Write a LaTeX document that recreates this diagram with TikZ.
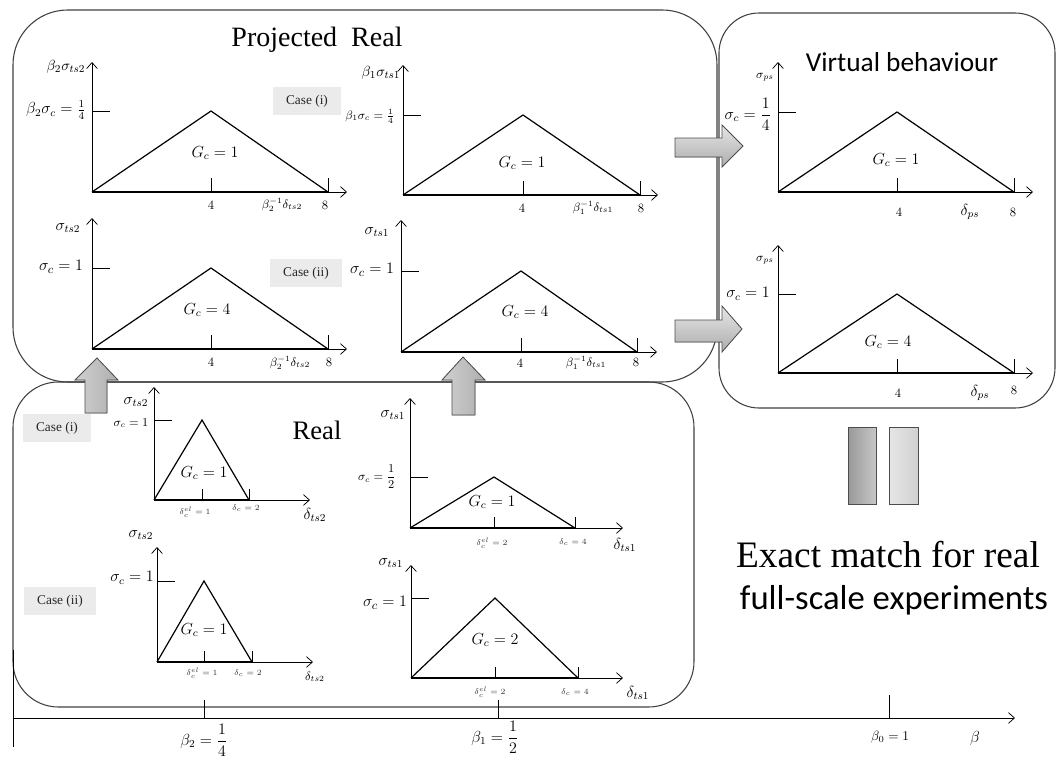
\documentclass[tikz,border=0pt]{standalone}
\usepackage{fontspec}
\newfontfamily\carl{Carlito}
\newfontfamily\tser{Liberation Serif}
\usetikzlibrary{arrows.meta}
\newcommand{\triplot}[8]{%
  \draw[axis] (#1,#2) -- (#1,#3);
  \draw[axis] (#1,#2) -- (#7,#2);
  \draw[basel] (#1,#2) -- (#6,#2);
  \draw[tri] (#1,#2) -- (#4,#5) -- (#6,#2);
  \draw[tick] (#4,#2) -- ++(0,-#8);
  \draw[tick] (#6,#2) -- ++(0,-#8);
  \draw[tick] (#1,#5) -- ++(18,0);
}
\begin{document}
\begin{tikzpicture}[x=0.75pt,y=-0.75pt,
  axis/.style={line width=0.55pt,-{Straight Barb[length=4.5pt,width=8pt]}},
  basel/.style={line width=1.5pt},
  tri/.style={line width=0.9pt},
  tick/.style={line width=0.55pt},
  box/.style={draw=black!75,line width=0.8pt},
  casebox/.style={fill=black!8,text=black!85,font=\tser\fontsize{10}{12}\selectfont,inner xsep=10pt,minimum height=20.5pt},
  blk/.style={draw=black!70,line width=0.6pt},
  lbA/.style={font=\fontsize{11.5}{13}\selectfont,inner sep=1pt},
  lbS/.style={font=\fontsize{9}{10}\selectfont,inner sep=1pt},
  lbT/.style={font=\fontsize{6}{7}\selectfont,inner sep=0.5pt,text=black!80},
  lbN/.style={font=\fontsize{9.5}{11}\selectfont,inner sep=1pt}
]
\useasboundingbox (0,0) rectangle (1057,760);

% ---------- boxes ----------
\draw[box,rounded corners=41pt] (13,10) rectangle (717,382);
\draw[box,rounded corners=30pt] (719,13) rectangle (1055,408);
\draw[box,rounded corners=34pt] (13,382) rectangle (694,707);

% ---------- beta axis ----------
\draw[tick] (13,650) -- (13,747);
\coordinate (bstart) at (13,718);
\coordinate (bend) at (1015,718);
\draw[axis] (bstart) -- (bend);
\draw[tick] (204,718) -- (204,700);
\draw[tick] (498,718) -- (498,700);
\draw[tick] (889,718) -- (889,695);
\node[lbA] (b2) at (204,740) {$\beta_2=\displaystyle\frac{1}{4}$};
\node[lbA] (b1) at (495,737) {$\beta_1=\displaystyle\frac{1}{2}$};
\node[lbS,font=\fontsize{10}{12}\selectfont] (b0) at (890,737) {$\beta_0=1$};
\node[lbA,font=\fontsize{13}{15}\selectfont] (bb) at (975,738) {$\beta$};

% ---------- titles ----------
\node[font=\tser\fontsize{21}{24}\selectfont] (tproj) at (317,40) {Projected\ \ Real};
\node[font=\fontsize{20.5}{24}\selectfont\carl] (tvirt) at (902,62) {Virtual behaviour};
\node[font=\tser\fontsize{20}{24}\selectfont] (treal) at (317,430) {Real};
\node[font=\tser\fontsize{28}{32}\selectfont] (texact) at (888,555) {Exact match for real};
\node[font=\fontsize{26}{30}\selectfont\carl] (tfull) at (894,600) {full-scale experiments};

% ---------- case boxes ----------
\node[casebox] (pc1) at (307,101) {Case (i)};
\node[casebox] (pc2) at (306,273) {Case (ii)};
\node[casebox] (rc1) at (57,428) {Case (i)};
\node[casebox] (rc2) at (60,601) {Case (ii)};

% ---------- projected plots ----------
\triplot{92}{192}{62}{211}{111}{328}{347}{14}
\node[lbA,font=\fontsize{11}{13}\selectfont] (p1y) at (66,67) {$\beta_2\sigma_{ts2}$};
\node[lbA] (p1c) at (56,110) {$\beta_2\sigma_c=\frac{1}{4}$};
\node[lbA] (p1g) at (215,153) {$G_c=1$};
\node[lbN] (p1a) at (211,205) {4};
\node[lbS] (p1b) at (282,205) {$\beta_2^{-1}\delta_{ts2}$};
\node[lbN] (p1e) at (325,205) {8};

\triplot{92}{349}{218}{211}{268}{328}{347}{14}
\node[lbA] (p2y) at (68,228) {$\sigma_{ts2}$};
\node[lbA,font=\fontsize{12.5}{14}\selectfont] (p2c) at (61,267) {$\sigma_c=1$};
\node[lbA] (p2g) at (207,310) {$G_c=4$};
\node[lbN] (p2a) at (211,362) {4};
\node[lbS] (p2b) at (290,363) {$\beta_2^{-1}\delta_{ts2}$};
\node[lbN] (p2e) at (329,362) {8};

\triplot{403}{195}{65}{523}{115}{640}{658}{14}
\node[lbA,font=\fontsize{11}{13}\selectfont] (p3y) at (381,73) {$\beta_1\sigma_{ts1}$};
\node[lbS] (p3c) at (370,116) {$\beta_1\sigma_c=\frac{1}{4}$};
\node[lbA] (p3g) at (522,163) {$G_c=1$};
\node[lbN] (p3a) at (522,208) {4};
\node[lbS] (p3b) at (593,208) {$\beta_1^{-1}\delta_{ts1}$};
\node[lbN] (p3e) at (641,208) {8};

\triplot{401}{352}{220}{521}{271}{637}{657}{14}
\node[lbA] (p4y) at (377,232) {$\sigma_{ts1}$};
\node[lbA,font=\fontsize{12.5}{14}\selectfont] (p4c) at (372,270) {$\sigma_c=1$};
\node[lbA] (p4g) at (525,312) {$G_c=4$};
\node[lbN] (p4a) at (520,363) {4};
\node[lbS] (p4b) at (586,363) {$\beta_1^{-1}\delta_{ts1}$};
\node[lbN] (p4e) at (636,362) {8};

% ---------- virtual plots ----------
\triplot{778}{192}{62}{897}{112}{1014}{1033}{14}
\node[lbS] (v1y) at (765,77) {$\sigma_{ps}$};
\node[lbA] (v1c) at (748,114) {$\sigma_c=\displaystyle\frac{1}{4}$};
\node[lbA] (v1g) at (896,160) {$G_c=1$};
\node[lbN] (v1a) at (899,212) {4};
\node[lbA] (v1b) at (970,212) {$\delta_{ps}$};
\node[lbN] (v1e) at (1013,212) {8};

\triplot{778}{373}{245}{897}{294}{1014}{1033}{14}
\node[lbS] (v2y) at (765,260) {$\sigma_{ps}$};
\node[lbA] (v2c) at (748,294) {$\sigma_c=1$};
\node[lbA] (v2g) at (888,342) {$G_c=4$};
\node[lbN] (v2a) at (898,393) {4};
\node[lbA] (v2b) at (980,393) {$\delta_{ps}$};
\node[lbN] (v2e) at (1014,390) {8};

% ---------- real plots ----------
\triplot{154}{500}{387}{202}{420}{249}{310}{11}
\node[lbA] (r1y) at (136,402) {$\sigma_{ts2}$};
\node[lbS] (r1c) at (131,423) {$\sigma_c=1$};
\node[lbA] (r1g) at (204,473) {$G_c=1$};
\node[lbT] (r1a) at (195,512) {$\delta_c^{el}=1$};
\node[lbT] (r1b) at (246,508) {$\delta_c=2$};
\node[lbA] (r1x) at (315,515) {$\delta_{ts2}$};

\triplot{157}{662}{547}{204}{581}{252}{313}{11}
\node[lbA] (r2y) at (141,535) {$\sigma_{ts2}$};
\node[lbA] (r2c) at (132,578) {$\sigma_c=1$};
\node[lbA] (r2g) at (204,630) {$G_c=1$};
\node[lbT] (r2a) at (202,673) {$\delta_c^{el}=1$};
\node[lbT] (r2b) at (248,673) {$\delta_c=2$};
\node[lbS] (r2x) at (315,677) {$\delta_{ts2}$};

\triplot{410}{528}{398}{494}{477}{575}{623}{11}
\node[lbA] (r3y) at (393,415) {$\sigma_{ts1}$};
\node[lbS] (r3c) at (377,477) {$\sigma_c=\displaystyle\frac{1}{2}$};
\node[lbA] (r3g) at (492,502) {$G_c=1$};
\node[lbT] (r3a) at (492,543) {$\delta_c^{el}=2$};
\node[lbT] (r3b) at (573,542) {$\delta_c=4$};
\node[lbA] (r3x) at (625,545) {$\delta_{ts1}$};

\triplot{411}{678}{565}{495}{598}{578}{623}{11}
\node[lbA] (r4y) at (391,563) {$\sigma_{ts1}$};
\node[lbA,font=\fontsize{13}{15}\selectfont] (r4c) at (385,603) {$\sigma_c=1$};
\node[lbA] (r4g) at (495,640) {$G_c=2$};
\node[lbT] (r4a) at (490,692) {$\delta_c^{el}=2$};
\node[lbT] (r4b) at (575,692) {$\delta_c=4$};
\node[lbA] (r4x) at (638,693) {$\delta_{ts1}$};

% ---------- block arrows ----------
\filldraw[blk,left color=black!18,right color=black!32]
  (85,413) -- (85,380) -- (75,380) -- (97,358) -- (118,380) -- (107,380) -- (107,413) -- cycle;
\filldraw[blk,left color=black!18,right color=black!32]
  (452,415) -- (452,380) -- (442,380) -- (463,357) -- (485,380) -- (475,380) -- (475,415) -- cycle;
\filldraw[blk,top color=black!10,bottom color=black!32]
  (675,138) -- (722,138) -- (722,125) -- (743,146) -- (722,167) -- (722,157) -- (675,157) -- cycle;
\filldraw[blk,top color=black!10,bottom color=black!32]
  (675,320) -- (722,320) -- (722,306) -- (742,329) -- (722,352) -- (722,342) -- (675,342) -- cycle;

% ---------- equals bars ----------
\filldraw[blk,left color=black!40,right color=black!22] (848,427) rectangle (876,504);
\filldraw[blk,left color=black!10,right color=black!18] (889,427) rectangle (918,504);
\end{tikzpicture}
\end{document}
